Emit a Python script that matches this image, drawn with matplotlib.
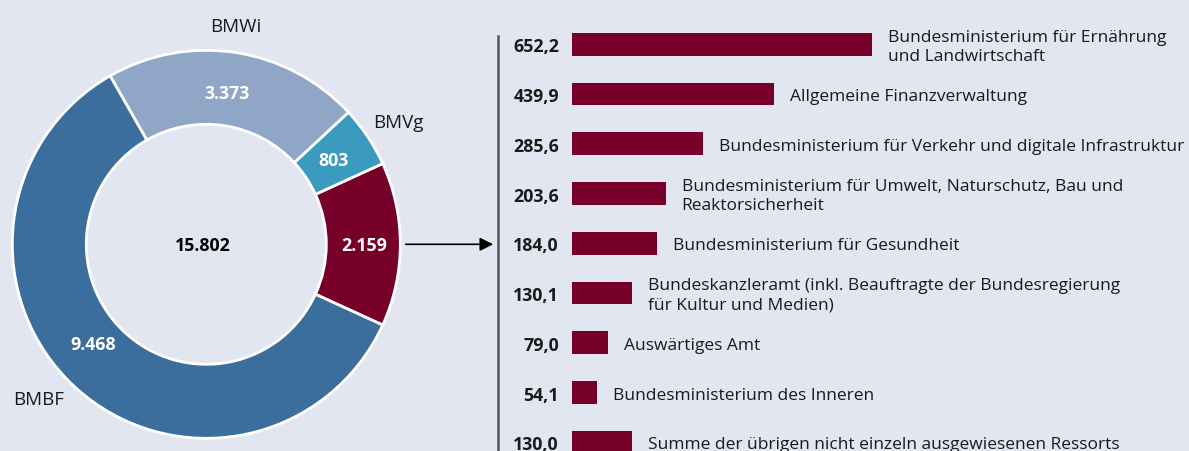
"""Donut of ministry budgets with breakdown of the remaining ministries."""

import matplotlib

matplotlib.use("Agg")
import matplotlib.pyplot as plt
import numpy as np

# donut: order as drawn counter-clockwise, starting with the highlighted slice
donut_names = ["", "BMVg", "BMWi", "BMBF"]
donut_values = [2159, 803, 3373, 9468]
donut_total = 15802

# breakdown of the highlighted slice
bar_values = [652.2, 439.9, 285.6, 203.6, 184.0, 130.1, 79.0, 54.1, 130.0]
bar_labels = [
    "Bundesministerium für Ernährung\nund Landwirtschaft",
    "Allgemeine Finanzverwaltung",
    "Bundesministerium für Verkehr und digitale Infrastruktur",
    "Bundesministerium für Umwelt, Naturschutz, Bau und\nReaktorsicherheit",
    "Bundesministerium für Gesundheit",
    "Bundeskanzleramt (inkl. Beauftragte der Bundesregierung\nfür Kultur und Medien)",
    "Auswärtiges Amt",
    "Bundesministerium des Inneren",
    "Summe der übrigen nicht einzeln ausgewiesenen Ressorts",
]

BG = "#e2e6f0"
MAROON = "#76002a"
donut_colors = [MAROON, "#3a9bbf", "#8fa6c6", "#3c6e9d"]

W, H = 1189, 452
plt.rcParams["font.family"] = ["Open Sans", "DejaVu Sans"]


def de_int(value):
    return f"{value:,}".replace(",", ".")


def de_dec(value):
    return f"{value:.1f}".replace(".", ",")


fig = plt.figure(figsize=(W / 100, H / 100), dpi=100, facecolor=BG)

# --- donut ---------------------------------------------------------------
cx, cy, half = 206.3, 245.3, 200.0
ax_d = fig.add_axes([(cx - half) / W, (H - cy - half) / H, 2 * half / W, 2 * half / H])
ax_d.set_facecolor(BG)
start = -donut_values[0] / sum(donut_values) * 360 / 2
ax_d.pie(
    donut_values,
    colors=donut_colors,
    startangle=start,
    counterclock=True,
    radius=0.97,
    wedgeprops=dict(width=0.37, edgecolor="white", linewidth=2),
)
ax_d.set_xlim(-1, 1)
ax_d.set_ylim(-1, 1)
ax_d.axis("off")


def px(x, y):
    return (x - cx) / half, (cy - y) / half


value_pos = [(364.3, 245.7), (333.3, 160.7), (226.7, 94.0), (93.3, 345.0)]
name_pos = [None, (398.3, 123.3), (235.7, 26.7), (38.3, 400.0)]
for name, value, vpos, npos in zip(donut_names, donut_values, value_pos, name_pos):
    ax_d.text(*px(*vpos), de_int(value), ha="center", va="center",
              color="white", fontsize=12.8, fontweight="bold")
    if npos:
        ax_d.text(*px(*npos), name, ha="center", va="center", color="#1a1a1a", fontsize=13.5)
ax_d.text(*px(203.3, 245.7), de_int(donut_total), ha="center", va="center",
          color="black", fontsize=12.8, fontweight="bold")

# arrow from the highlighted slice to the breakdown
ax_d.annotate("", xy=(496, H - 245.3), xycoords="figure pixels",
              xytext=(403, H - 245.3), textcoords="figure pixels",
              arrowprops=dict(arrowstyle="-|>", color="black", lw=1.2, mutation_scale=20))

# --- bars ----------------------------------------------------------------
x0, scale = 572, 0.46
row0, step = 45.3, 49.75
ax_b = fig.add_axes([x0 / W, 0, (W - x0) / W, 1])
ax_b.set_facecolor("none")
rows = np.arange(len(bar_values))
ax_b.barh(rows, bar_values, height=22.7 / step, color=MAROON)
ax_b.set_xlim(0, (W - x0) / scale)
ax_b.set_ylim((H - row0) / step, -row0 / step)
ax_b.axis("off")

for i, (value, label) in enumerate(zip(bar_values, bar_labels)):
    ax_b.annotate(de_dec(value), (0, i), xytext=(-13, -2), textcoords="offset pixels",
                  ha="right", va="center", fontsize=12.8, fontweight="bold", color="#1a1a1a")
    ax_b.annotate(label, (value, i), xytext=(16, -2), textcoords="offset pixels",
                  ha="left", va="center", fontsize=12.5, color="#1a1a1a", linespacing=1.3)

fig.add_artist(plt.Line2D([498 / W, 498 / W], [1 - 37 / H, 0], transform=fig.transFigure,
                          color="#555555", lw=1.8))

fig.savefig("out.png", dpi=100, facecolor=BG)
